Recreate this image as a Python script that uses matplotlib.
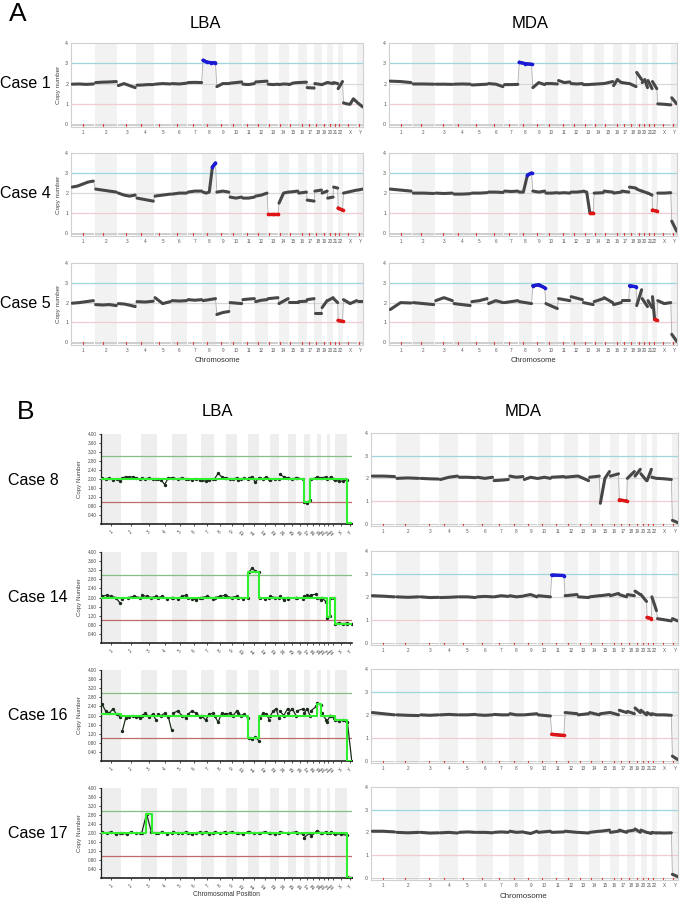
import numpy as np
import matplotlib
matplotlib.use('Agg')
import matplotlib.pyplot as plt

plt.rcParams['font.family'] = ['Liberation Sans', 'DejaVu Sans']

# ---------------- data ----------------
CHROMS = ['1', '2', '3', '4', '5', '6', '7', '8', '9', '10', '11', '12', '13', '14',
          '15', '16', '17', '18', '19', '20', '21', '22', 'X', 'Y']
CHROM_LEN = [249.3, 243.2, 198.0, 191.2, 180.9, 171.1, 159.1, 146.4, 141.2, 135.5, 135.0, 133.9,
             115.2, 107.4, 102.5, 90.4, 81.2, 78.1, 59.1, 63.0, 48.1, 51.3, 155.3, 59.4]
CENTROMERE = [125.0, 93.3, 91.0, 50.4, 48.4, 61.0, 59.9, 45.6, 49.0, 40.2, 53.7, 35.8,
              17.9, 17.6, 19.0, 36.6, 24.0, 17.2, 26.5, 27.5, 13.2, 14.7, 60.6, 12.5]
A_YTICKS = [0, 1, 2, 3, 4]
B_LBA_YTICKS = [0.40, 0.80, 1.20, 1.60, 2.00, 2.40, 2.80, 3.20, 3.60, 4.00]

# Panel A, LBA, case 1 (values along each chromosome)
a_lba_case1 = [[1.97, 1.98, 1.96, 1.98], [2.05, 2.07, 2.08, 2.1], [1.9, 2.0, 1.9, 1.8], [1.92, 1.93, 1.95, 1.95],
               [1.97, 2.0, 1.98], [2.0, 1.98, 2.02], [2.05, 2.06, 2.05], [3.15, 3.05, 3.03, 3.02],
               [1.85, 2.0, 2.0], [2.02, 2.05, 2.08], [1.97, 1.95, 2.0], [2.08, 2.1, 2.12],
               [1.97, 1.95, 1.97], [1.95, 1.98, 1.97], [1.95, 2.03, 2.05], [2.05, 2.07],
               [1.8, 1.78], [2.0, 1.95], [1.95, 2.05], [2.05, 2.0], [2.05, 2.0], [1.75, 2.1],
               [1.05, 1.0, 0.98, 1.25, 1.1], [1.05, 0.85]]
a_lba_case1_calls = [(7, 0.0, 1.0, 'gain')]

a_mda_case1 = [[2.12, 2.1, 2.05], [1.98, 1.98, 1.97], [1.97, 1.97, 1.96], [1.97, 1.98, 1.97],
               [1.93, 1.95, 1.97], [2.0, 1.97, 1.85], [1.95, 1.95, 1.96], [3.05, 2.98, 2.95],
               [1.8, 2.05, 1.95], [2.0, 2.0, 1.98], [2.15, 2.05, 2.08], [2.0, 1.98, 2.0],
               [1.95, 1.95, 1.97], [1.97, 2.0], [2.0, 2.1], [1.9, 2.2, 2.05], [2.05, 2.0],
               [2.0, 1.85], [2.55, 2.2], [2.05, 2.2, 1.8], [2.15, 1.75], [2.1, 1.75],
               [1.0, 0.98, 0.95], [1.3, 1.0]]
a_mda_case1_calls = [(7, 0.0, 1.0, 'gain')]

a_lba_case4 = [[2.3, 2.35, 2.45, 2.55, 2.6], [2.2, 2.15, 2.1, 2.05], [2.0, 1.9, 1.85, 1.9], [1.75, 1.7, 1.65, 1.6],
               [1.85, 1.9, 1.95], [1.95, 2.0, 2.0], [2.05, 2.1, 2.1], [2.05, 2.0, 2.05, 3.3, 3.5],
               [2.05, 2.1, 2.05], [1.8, 1.75, 1.8], [1.75, 1.75, 1.8], [1.85, 1.9, 2.0],
               [0.95, 0.95, 0.95], [1.5, 2.0, 2.05], [2.05, 2.1], [2.0, 2.05], [1.65, 1.6],
               [2.1, 2.15], [2.0, 2.1], [1.75, 1.8], [2.3, 2.25], [1.25, 1.15],
               [2.0, 2.05, 2.1, 2.15], [2.15, 2.2]]
a_lba_case4_calls = [(7, 0.7, 1.0, 'gain'), (12, 0.0, 1.0, 'loss'), (21, 0.0, 1.0, 'loss')]

a_mda_case4 = [[2.2, 2.15, 2.1], [2.0, 2.0, 1.98], [2.0, 1.98, 2.0], [1.95, 1.95, 1.97],
               [2.0, 2.0, 2.02], [2.05, 2.05, 2.03], [2.1, 2.08, 2.1], [2.05, 2.05, 2.9, 3.0],
               [2.1, 2.05, 2.1], [2.0, 2.0, 2.02], [2.0, 2.02, 2.0], [2.05, 2.05, 2.08],
               [2.1, 2.05, 1.0, 1.0], [2.0, 2.02], [2.1, 2.05], [2.0, 2.05], [2.1, 2.05],
               [2.3, 2.25], [2.2, 2.1], [2.1, 2.0], [2.0, 1.9], [1.15, 1.1],
               [2.0, 2.0, 2.02], [0.6, 0.1]]
a_mda_case4_calls = [(7, 0.6, 1.0, 'gain'), (12, 0.6, 1.0, 'loss'), (21, 0.0, 1.0, 'loss')]

a_lba_case5 = [[1.97, 2.0, 2.05, 2.1], [1.9, 1.88, 1.9, 1.85], [1.95, 1.93, 1.87, 1.8], [2.05, 2.03, 2.07],
               [2.25, 1.95, 2.05], [2.1, 2.08, 2.1], [2.15, 2.12, 2.15], [2.1, 2.15, 2.2],
               [1.4, 1.5, 1.55], [2.0, 1.95], [2.15, 2.18, 2.2], [2.05, 2.12, 2.15],
               [2.2, 2.25], [1.95, 2.2], [2.05, 2.05], [2.05, 2.07], [2.15, 2.2], [1.5, 1.5],
               [1.75, 2.1], [2.1, 2.25], [2.2, 2.0], [1.1, 1.05], [2.15, 1.95, 2.1], [2.1, 2.1]]
a_lba_case5_calls = [(21, 0.0, 1.0, 'loss')]

a_mda_case5 = [[1.65, 2.0, 1.98], [2.0, 1.95, 1.9], [2.1, 2.25, 2.1], [1.95, 1.9, 1.85],
               [2.05, 2.1, 2.2], [1.95, 2.1, 2.0], [2.0, 2.1], [2.05, 1.95],
               [2.85, 2.9, 2.75], [1.95, 1.7], [2.2, 2.1], [2.3, 2.15], [2.0, 1.9],
               [2.05, 2.2], [2.25, 2.0], [1.9, 2.0], [2.15, 2.15], [2.85, 2.8],
               [1.85, 2.65], [2.2, 1.8], [2.1, 1.75], [2.3, 1.15, 1.1], [2.1, 1.95, 2.0], [0.4, 0.05]]
a_mda_case5_calls = [(8, 0.0, 1.0, 'gain'), (17, 0.0, 1.0, 'gain'), (21, 0.5, 1.0, 'loss')]

# Panel B, LBA (dots) and segment levels
b_lba_case8 = [[2.05, 2.0, 2.05, 1.95, 2.0, 1.9], [2.05, 2.1, 2.08, 2.1, 2.05, 2.0], [2.05, 2.0, 2.05, 2.0, 2.0],
               [2.0, 1.95, 1.75, 2.05, 2.05], [2.05, 2.0, 2.05, 2.0], [2.0, 1.95, 2.0, 1.95],
               [1.95, 1.9, 1.95, 2.0], [2.0, 2.25, 2.1, 2.05], [2.05, 2.0, 2.0, 2.05],
               [1.95, 2.0, 2.05, 2.0], [2.05, 2.1, 1.85, 2.05], [2.05, 2.0, 2.1, 2.0],
               [1.95, 2.0, 2.0], [2.2, 2.1, 2.05], [2.05, 2.0, 2.05], [2.05, 2.0],
               [1.0, 0.95, 1.05], [2.0, 2.05], [2.1, 2.05], [2.05, 2.1], [2.0, 2.05],
               [2.1, 2.0], [1.95, 1.9, 1.9, 1.95], [0.05, 0.02]]
b_lba_case8_seg = [[2.0], [2.0], [2.0], [2.0], [2.0], [2.0], [2.0], [2.0], [2.0], [2.0], [2.0], [2.0],
                   [2.0], [2.0], [2.0], [2.0], [1.0], [2.0], [2.0], [2.0], [2.0], [2.0], [2.0], [0.03]]

b_lba_case14 = [[2.05, 2.1, 2.05, 2.0, 1.75], [1.95, 2.0, 2.05, 2.0], [2.1, 2.05, 2.0, 2.05], [2.0, 2.05, 1.95, 2.0],
                [2.0, 1.95, 2.05, 2.1], [2.0, 1.95, 1.9, 2.0], [2.0, 2.05, 1.95], [2.0, 2.05, 2.1],
                [2.05, 2.0, 2.05], [2.0, 1.95, 2.0], [3.1, 3.3, 3.15, 3.1], [2.0, 1.95, 2.0],
                [2.05, 2.0, 2.0], [2.05, 1.9, 2.0], [1.95, 2.0], [2.0, 1.95], [2.05, 2.1, 2.05],
                [2.1, 2.15], [2.0, 1.9], [2.0, 1.8], [1.1, 1.2], [2.0, 2.0], [0.85, 0.88, 0.85, 0.87], [0.85, 0.82]]
b_lba_case14_seg = [[2.0], [2.0], [2.0], [2.0], [2.0], [2.0], [2.0], [2.0], [2.0], [2.0], [3.1], [2.0],
                    [2.0], [2.0], [2.0], [2.0], [2.0], [2.0], [2.0], [2.0], [1.15], [2.0], [0.85], [0.85]]

b_lba_case16 = [[2.5, 2.2, 2.1, 2.3, 2.05, 1.95], [1.3, 1.9, 1.95, 2.0, 1.95, 1.9], [2.0, 2.1, 1.95, 2.05, 1.8],
                [2.05, 2.0, 2.1, 1.95, 1.35], [2.1, 2.2, 2.0, 1.9], [2.05, 2.2, 2.1, 1.95],
                [2.0, 1.8, 2.05, 2.1], [2.0, 1.7, 2.1, 2.05], [2.05, 2.1, 2.0, 2.2],
                [2.1, 2.0, 2.05, 1.9], [1.0, 0.95, 1.05, 0.9], [1.9, 2.1, 2.05, 1.8],
                [2.0, 2.2, 2.3, 1.9], [2.2, 2.0, 2.3], [2.1, 2.3, 2.0], [2.2, 2.3],
                [2.1, 2.3, 2.0], [2.2, 2.4], [2.55, 2.45], [2.1, 1.8], [1.7, 2.0], [2.0, 1.9],
                [1.8, 1.75, 1.8, 1.7], [1.7, 0.0]]
b_lba_case16_seg = [[2.05], [2.0], [2.0], [2.0], [2.0], [2.0], [2.0], [2.0], [2.0], [2.0], [1.0], [2.0],
                    [2.0], [2.0], [2.0], [2.0], [2.0], [2.0], [2.5], [2.0], [2.0], [2.0], [1.8], [0.0]]

b_lba_case17 = [[2.05, 2.0, 2.05, 1.95, 2.0], [2.0, 1.95, 2.05, 2.0, 2.0], [2.0, 2.85, 2.05, 2.0],
                [2.0, 2.05, 1.95, 2.0], [2.05, 2.0, 2.0, 2.05], [2.0, 1.95, 2.0, 2.05],
                [2.0, 2.05, 1.95, 2.0], [2.05, 2.0, 2.05], [2.0, 2.05, 2.0], [2.0, 1.95, 2.05],
                [2.05, 2.0, 2.0], [2.0, 2.05, 2.0], [2.0, 1.95, 2.0], [2.05, 2.0], [2.0, 2.05],
                [2.0, 1.95], [1.8, 2.0], [1.85, 2.05], [2.1, 2.0], [2.0, 2.05], [2.0, 2.0],
                [2.05, 2.0], [1.95, 1.95, 1.9], [0.05, 0.02]]
b_lba_case17_seg = [[2.0], [2.0], [2.0, 2.85, 2.0], [2.0], [2.0], [2.0], [2.0], [2.0], [2.0], [2.0], [2.0], [2.0],
                    [2.0], [2.0], [2.0], [2.0], [2.0], [2.0], [2.0], [2.0], [2.0], [2.0], [2.0], [0.02]]

# Panel B, MDA
b_mda_case8 = [[2.1, 2.1, 2.08], [2.0, 2.02, 2.0], [2.0, 1.98, 1.97], [1.95, 2.05, 2.1],
               [2.05, 2.05, 2.03], [2.05, 2.0, 2.05], [1.9, 1.92, 1.95], [2.1, 2.05, 2.08],
               [1.95, 2.05, 2.0], [2.0, 2.05, 2.0], [2.05, 2.08], [2.05, 2.1], [2.1, 1.9],
               [2.05, 2.1], [0.9, 2.0, 2.3], [2.1, 2.2], [1.05, 1.0], [2.0, 2.3], [2.1, 2.4],
               [2.2, 1.9], [1.9, 2.4], [2.05, 2.0], [2.0, 1.98, 1.95], [0.15, 0.05]]
b_mda_case8_calls = [(16, 0.0, 1.0, 'loss')]

b_mda_case14 = [[2.05, 2.03, 2.0], [2.0, 1.98, 2.0], [2.0, 1.97, 1.98], [1.97, 1.98, 2.0],
                [2.0, 2.0, 1.97], [2.0, 2.02, 2.0], [2.0, 2.05, 2.02], [2.05, 2.0, 2.03],
                [2.05, 2.1, 2.0], [2.05, 2.0], [2.95, 2.93], [2.05, 2.1], [2.0, 1.97],
                [2.0, 2.05], [2.05, 2.1], [2.05, 2.15], [2.1, 2.0], [2.1, 2.05], [2.25, 2.1],
                [2.1, 1.8], [1.1, 1.05], [2.0, 1.4], [1.05, 1.0, 0.95], [1.05, 0.95]]
b_mda_case14_calls = [(10, 0.0, 1.0, 'gain'), (20, 0.0, 1.0, 'loss')]

b_mda_case16 = [[2.1, 2.05, 2.0], [2.0, 1.98, 1.97], [2.0, 1.98, 2.0], [2.0, 2.02, 2.0],
                [2.0, 2.0, 2.02], [2.0, 1.98, 2.0], [2.02, 2.0, 2.0], [2.05, 2.0, 2.0],
                [2.0, 2.05], [2.0, 1.95], [1.15, 1.1], [2.1, 2.05], [2.0, 2.05], [2.1, 2.0],
                [2.05, 2.1], [2.1, 2.0], [2.2, 2.1], [2.15, 2.05], [2.3, 2.1], [2.2, 2.0],
                [2.1, 2.0], [2.05, 2.0], [2.0, 2.0, 1.98], [0.2, 0.05]]
b_mda_case16_calls = [(10, 0.0, 1.0, 'loss')]

b_mda_case17 = [[2.05, 2.05, 2.02], [2.0, 1.98, 2.0], [2.0, 1.97, 1.98], [1.98, 2.0, 1.97],
                [2.0, 2.02, 2.0], [2.0, 2.0, 1.98], [2.0, 2.02, 2.0], [2.05, 2.0, 2.02],
                [2.0, 1.95, 2.05], [2.0, 2.05], [2.0, 2.02], [2.05, 2.0], [2.0, 1.97],
                [2.0, 2.05], [2.05, 2.1], [2.0, 2.05], [2.1, 2.0], [2.05, 2.1], [2.15, 2.0],
                [2.1, 2.0], [2.0, 1.95], [2.0, 1.97], [1.98, 1.97, 1.98], [0.15, 0.05]]
b_mda_case17_calls = []

# ---------------- drawing ----------------
W, H = 685, 901
fig = plt.figure(figsize=(W / 100, H / 100), dpi=100)
fig.patch.set_facecolor('white')

starts = np.concatenate([[0.0], np.cumsum(CHROM_LEN)[:-1]])
TOTAL = float(np.sum(CHROM_LEN))
centers = starts + np.array(CHROM_LEN) / 2.0


def ax_px(l, t, r, b):
    return fig.add_axes([l / W, 1 - b / H, (r - l) / W, (b - t) / H])


def ftext(x, y, s, **kw):
    fig.text(x / W, 1 - y / H, s, **kw)


def point_x(ci, n):
    L = CHROM_LEN[ci]
    s = starts[ci]
    if n == 1:
        return np.array([s + L / 2])
    return s + L * (0.05 + 0.9 * np.arange(n) / (n - 1))


CALL_COL = {'gain': '#1a1ad6', 'loss': '#e01414'}


def draw_a(ax, profile, calls, ylabel=None, ylo=-0.14):
    ax.set_xlim(0, TOTAL)
    ax.set_ylim(ylo, 4.0)
    for i in range(24):
        if i % 2 == 1:
            ax.axvspan(starts[i], starts[i] + CHROM_LEN[i], color='#f2f2f2', lw=0, zorder=0)
    ax.axhline(3, color='#9fd6dc', lw=0.9, zorder=1)
    ax.axhline(2, color='#d9d9d9', lw=0.9, zorder=1)
    ax.axhline(1, color='#efcdd0', lw=0.9, zorder=1)
    # bottom chromosome strip with centromeres
    for i in range(24):
        s = starts[i]
        L = CHROM_LEN[i]
        ax.fill_between([s + L * 0.02, s + L * 0.98], ylo + 0.03, 0.0, color='#cfcfcf', lw=0, zorder=1)
        c = s + CENTROMERE[i]
        ax.plot([c, c], [ylo + 0.03, 0.0], color='#e04040', lw=0.8, zorder=2)
    xs_all, ys_all = [], []
    for i, vals in enumerate(profile):
        xs_all += list(point_x(i, len(vals)))
        ys_all += list(vals)
    ax.plot(xs_all, ys_all, color='#b0b0b0', lw=0.6, zorder=2)
    for i, vals in enumerate(profile):
        ax.plot(point_x(i, len(vals)), vals, color='#474747', lw=2.2,
                solid_capstyle='round', zorder=3)
    for ci, f0, f1, kind in calls:
        vals = np.array(profile[ci])
        xs = point_x(ci, len(vals))
        fr = (xs - starts[ci]) / CHROM_LEN[ci]
        m = (fr >= f0) & (fr <= f1)
        ax.plot(xs[m], vals[m], color=CALL_COL[kind], lw=2.4, marker='o', ms=1.6,
                solid_capstyle='round', zorder=4)
    for sp in ax.spines.values():
        sp.set_color('#d0d0d0')
        sp.set_linewidth(0.8)
    ax.set_yticks(A_YTICKS)
    ax.set_yticklabels([str(t) for t in A_YTICKS], fontsize=3.8, color='#555555')
    ax.set_xticks(centers)
    ax.set_xticklabels(CHROMS, fontsize=3.3, color='#555555')
    ax.tick_params(axis='both', length=0, pad=2)
    if ylabel:
        ax.set_ylabel(ylabel, fontsize=4.6, color='#444444', labelpad=3)


def draw_b_lba(ax, dots, seg):
    ax.set_xlim(0, TOTAL)
    ax.set_ylim(0, 4.0)
    for i in range(24):
        if i % 2 == 0:
            ax.axvspan(starts[i], starts[i] + CHROM_LEN[i], color='#eeeeee', lw=0, zorder=0)
    ax.axhline(3, color='#86bf86', lw=0.9, zorder=1)
    ax.axhline(1, color='#c06a6a', lw=0.9, zorder=1)
    for i, vals in enumerate(dots):
        ax.plot(point_x(i, len(vals)), vals, color='#1c2a1c', lw=0.9, marker='o', ms=1.4,
                zorder=3)
    gx, gy = [], []
    for i, levels in enumerate(seg):
        n = len(levels)
        edges = starts[i] + CHROM_LEN[i] * np.arange(n + 1) / n
        for k, lv in enumerate(levels):
            gx += [edges[k], edges[k + 1]]
            gy += [lv, lv]
    ax.plot(gx, gy, color='#2ef02e', lw=1.5, zorder=4)
    for side in ('top', 'right'):
        ax.spines[side].set_visible(False)
    ax.spines['left'].set_color('#222222')
    ax.spines['bottom'].set_color('#222222')
    ax.spines['left'].set_linewidth(0.9)
    ax.spines['bottom'].set_linewidth(1.2)
    ax.set_yticks(B_LBA_YTICKS)
    ax.set_yticklabels(['%.2f' % t for t in B_LBA_YTICKS], fontsize=3.3, color='#444444')
    ax.set_xticks(centers)
    ax.set_xticklabels(CHROMS, fontsize=3.3, color='#444444', rotation=45)
    ax.tick_params(axis='y', length=1.5, width=0.5, pad=1.5)
    ax.tick_params(axis='x', length=1.5, width=0.5, pad=2.5)
    ax.set_ylabel('Copy Number', fontsize=4.4, color='#444444', labelpad=4)


# panel labels and titles
ftext(18, 14, 'A', fontsize=19, ha='center', va='center')
ftext(26, 412, 'B', fontsize=19, ha='center', va='center')
ftext(205, 23, 'LBA', fontsize=12, ha='center', va='center')
ftext(530, 23, 'MDA', fontsize=12, ha='center', va='center')
ftext(217, 412, 'LBA', fontsize=12, ha='center', va='center')
ftext(523, 412, 'MDA', fontsize=12, ha='center', va='center')

# Panel A rows
a_rows = [('Case 1', 43, 127, a_lba_case1, a_lba_case1_calls, a_mda_case1, a_mda_case1_calls),
          ('Case 4', 153, 236, a_lba_case4, a_lba_case4_calls, a_mda_case4, a_mda_case4_calls),
          ('Case 5', 263, 345, a_lba_case5, a_lba_case5_calls, a_mda_case5, a_mda_case5_calls)]
for k, (name, top, bot, lp, lc, mp, mc) in enumerate(a_rows):
    ax = ax_px(71, top, 363, bot)
    draw_a(ax, lp, lc, ylabel='Copy number')
    ax = ax_px(389, top, 677, bot)
    draw_a(ax, mp, mc)
    ftext(0, top + 41, name, fontsize=11.5, ha='left', va='center')
ftext(217, 361, 'Chromosome', fontsize=5.5, ha='center', va='center', color='#333333')
ftext(533, 361, 'Chromosome', fontsize=5.5, ha='center', va='center', color='#333333')

# Panel B rows
b_rows = [('Case 8', 434, 524, b_lba_case8, b_lba_case8_seg, b_mda_case8, b_mda_case8_calls),
          ('Case 14', 552, 643, b_lba_case14, b_lba_case14_seg, b_mda_case14, b_mda_case14_calls),
          ('Case 16', 670, 761, b_lba_case16, b_lba_case16_seg, b_mda_case16, b_mda_case16_calls),
          ('Case 17', 788, 878, b_lba_case17, b_lba_case17_seg, b_mda_case17, b_mda_case17_calls)]
for k, (name, top, bot, lp, ls, mp, mc) in enumerate(b_rows):
    ax = ax_px(101, top, 352, bot)
    draw_b_lba(ax, lp, ls)
    ax = ax_px(371, top - 1, 678, bot + 2)
    draw_a(ax, mp, mc, ylo=-0.1)
    ftext(8, top + 46, name, fontsize=11.5, ha='left', va='center')
ftext(226, 895, 'Chromosomal Position', fontsize=4.8, ha='center', va='center', color='#333333')
ftext(524, 896, 'Chromosome', fontsize=5.8, ha='center', va='center', color='#333333')

fig.savefig('out.png', dpi=100)
